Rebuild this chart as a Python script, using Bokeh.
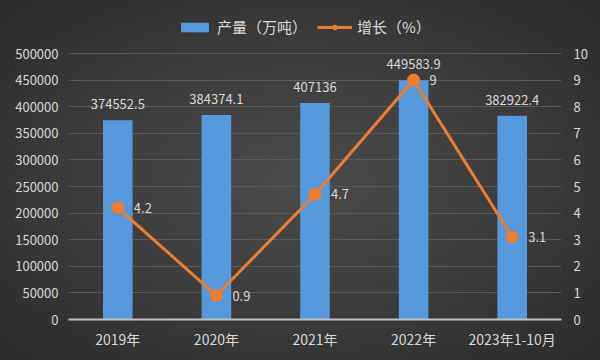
from bokeh.plotting import figure
from bokeh.models import (Range1d, LinearAxis, ColumnDataSource, Legend, LegendItem,
                          FixedTicker, LabelSet)
from bokeh.core.properties import value
from bokeh.embed import file_html
from bokeh.resources import INLINE

categories = ["2019年", "2020年", "2021年", "2022年", "2023年1-10月"]
output = [374552.5, 384374.1, 407136, 449583.9, 382922.4]
growth = [4.2, 0.9, 4.7, 9, 3.1]
output_labels = ["374552.5", "384374.1", "407136", "449583.9", "382922.4"]
growth_labels = ["4.2", "0.9", "4.7", "9", "3.1"]
left_ticks = [0, 50000, 100000, 150000, 200000, 250000, 300000, 350000, 400000, 450000, 500000]
right_ticks = [0, 1, 2, 3, 4, 5, 6, 7, 8, 9, 10]

FONT = "Noto Sans CJK SC"
TXT = "#d9d9d9"

# frame: top at 14px, the 500000 grid line at 53px, zero line at 319px
TOP_FRAC = (319 - 14) / (319 - 53)

src = ColumnDataSource(dict(cat=categories, out=output, gr=growth,
                            outl=output_labels, grl=growth_labels))

p = figure(width=600, height=360, x_range=categories,
           y_range=Range1d(0, 500000 * TOP_FRAC),
           output_backend="svg", toolbar_location=None,
           min_border_left=68, min_border_right=39, min_border_top=14, min_border_bottom=41)
p.extra_y_ranges = {"pct": Range1d(0, 10 * TOP_FRAC)}

p.background_fill_alpha = 0
p.border_fill_alpha = 0
p.outline_line_color = None

bars = p.vbar(x="cat", top="out", width=0.30, source=src, fill_color="#5599dc",
              line_color=None)
line = p.line(x="cat", y="gr", source=src, y_range_name="pct", line_color="#ED7D31",
              line_width=3)
pts = p.scatter(x="cat", y="gr", source=src, y_range_name="pct", size=12,
                fill_color="#ED7D31", line_color="#ED7D31")

p.add_layout(LabelSet(x="cat", y="out", text="outl", source=src, text_align="center",
                      text_baseline="bottom", y_offset=11, text_color=TXT,
                      text_font=value(FONT), text_font_size="13px"))
p.add_layout(LabelSet(x="cat", y="gr", text="grl", source=src, text_align="left",
                      text_baseline="middle", x_offset=16, y_range_name="pct",
                      text_color=TXT, text_font=value(FONT), text_font_size="13px"))

# axes
p.yaxis.ticker = FixedTicker(ticks=left_ticks)
p.yaxis.formatter.use_scientific = False
right = LinearAxis(y_range_name="pct", ticker=FixedTicker(ticks=right_ticks))
p.add_layout(right, "right")

for ax, so in [(p.yaxis[0], 10), (right, 12)]:
    ax.axis_line_color = None
    ax.major_tick_line_color = None
    ax.minor_tick_line_color = None
    ax.major_tick_out = 0
    ax.minor_tick_out = 0
    ax.major_label_text_color = TXT
    ax.major_label_text_font = FONT
    ax.major_label_text_font_size = "13px"
    ax.major_label_standoff = so

p.xaxis.axis_line_color = "#bfbfbf"
p.xaxis.axis_line_width = 2
p.xaxis.major_tick_line_color = None
p.xaxis.minor_tick_line_color = None
p.xaxis.major_tick_out = 0
p.xaxis.minor_tick_out = 0
p.xaxis.major_label_text_color = TXT
p.xaxis.major_label_text_font = FONT
p.xaxis.major_label_text_font_size = "14px"
p.xaxis.major_label_standoff = 9

p.xgrid.grid_line_color = None
p.ygrid.grid_line_color = "#5a5a5a"
p.ygrid.grid_line_width = 1

legend = Legend(items=[LegendItem(label="产量（万吨）", renderers=[bars]),
                       LegendItem(label="增长（%）", renderers=[line, pts])],
                orientation="horizontal", location=(109, 282),
                background_fill_alpha=0, border_line_color=None,
                label_text_color=TXT, label_text_font=FONT, label_text_font_size="15px",
                glyph_width=35, glyph_height=12, spacing=10, margin=0, padding=2,
                label_standoff=5)
p.add_layout(legend, "center")

html = file_html(p, INLINE)
html = html.replace("</head>",
                    "<style>html,body{background:radial-gradient(ellipse at 50% 50%, "
                    "#4a4a4a 0%, #3b3b3b 55%, #2a2a2a 100%) #333;}</style></head>")
open("out.html", "w").write(html)
